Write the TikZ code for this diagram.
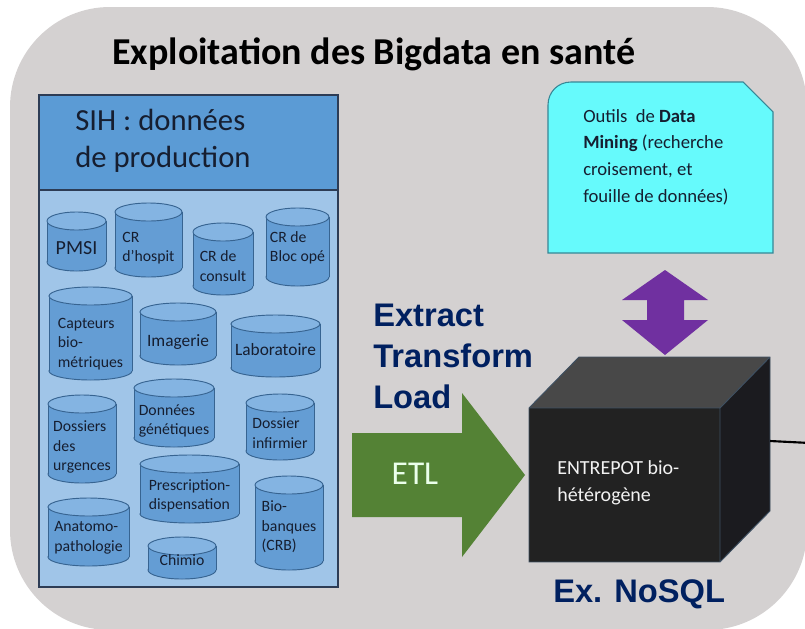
\documentclass[tikz,border=0pt]{standalone}
\usepackage{fontspec}
\setmainfont{Carlito}
\newfontfamily\arialfont{Liberation Sans}
\definecolor{bggray}{RGB}{212,209,209}
\definecolor{sihlight}{RGB}{160,197,232}
\definecolor{sihhead}{RGB}{91,155,213}
\definecolor{sihborder}{RGB}{45,60,85}
\definecolor{cylbody}{RGB}{100,157,212}
\definecolor{cyltopc}{RGB}{132,180,226}
\definecolor{cylline}{RGB}{55,100,145}
\definecolor{darktxt}{RGB}{22,30,48}
\definecolor{dmcyan}{RGB}{102,250,252}
\definecolor{dmborder}{RGB}{55,135,150}
\definecolor{arrowpurple}{RGB}{112,48,160}
\definecolor{etlgreen}{RGB}{84,130,53}
\definecolor{navy}{RGB}{0,32,96}
\definecolor{cubefront}{RGB}{34,34,34}
\definecolor{cubetop}{RGB}{72,72,72}
\definecolor{cuberight}{RGB}{27,27,31}
\definecolor{cubeedge}{RGB}{62,80,98}
\newcommand\dbcyl[7]{%
  \pgfmathsetmacro\cylcx{(#2+#3)/2}%
  \pgfmathsetmacro\cylrx{(#3-#2)/2*0.75}%
  \pgfmathsetmacro\cyltopy{#4+9}%
  \pgfmathsetmacro\cylboty{#5-9}%
  \filldraw[cylshape] (\cylcx,\cylboty) ellipse [x radius=\cylrx pt, y radius=6.75pt];
  \fill[cylbody] (#2,\cyltopy) rectangle (#3,\cylboty);
  \draw[cylshape] (#2,\cyltopy) -- (#2,\cylboty) (#3,\cyltopy) -- (#3,\cylboty);
  \filldraw[cylshape,fill=cyltopc] (\cylcx,\cyltopy) ellipse [x radius=\cylrx pt, y radius=6.75pt];
  \node[cyltext] (#1) at (\cylcx,#6) {#7};
}
\newcommand\cylbig{\fontsize{15pt}{18pt}\selectfont}
\newcommand\cylmid{\fontsize{13pt}{16pt}\selectfont}
\begin{document}
\begin{tikzpicture}[x=0.75pt,y=-0.75pt,
  cylshape/.style={fill=cylbody,draw=cylline,line width=0.7pt},
  cyltext/.style={inner sep=0pt,align=left,text=darktxt,font=\fontsize{11.8pt}{14.6pt}\selectfont},
  bigblue/.style={inner sep=0pt,anchor=base west,align=left,text=navy,font=\arialfont\bfseries\fontsize{24.5pt}{30.7pt}\selectfont}]
\useasboundingbox (0,0) rectangle (805,628);
% background
\fill[bggray, rounded corners=75pt] (10,7) rectangle (807,630);
% title
\node[inner sep=0pt,anchor=base west,font=\bfseries\fontsize{28.5pt}{34pt}\selectfont] (title) at (112,64) {Exploitation des Bigdata en santé};
% SIH box
\draw[fill=sihlight,draw=sihborder,line width=0.8pt] (39,95) rectangle (338,587);
\draw[fill=sihhead,draw=sihborder,line width=1pt] (39,95) rectangle (338,190);
\node[inner sep=0pt,anchor=base west,align=left,text=darktxt,font=\fontsize{23pt}{27.7pt}\selectfont] (sih) at (75,167) {SIH : données\\de production};
% cylinders
\dbcyl{pmsi}{47}{106}{212}{271}{248}{\cylbig PMSI}
\dbcyl{crhosp}{115}{182}{203}{277}{248}{CR\\d’hospit}
\dbcyl{crconsult}{193}{253}{223}{295}{266}{CR de\\consult}
\dbcyl{crbloc}{266}{329}{208}{286}{248}{CR de\\Bloc opé}
\dbcyl{capteurs}{49}{132}{287}{380}{344}{Capteurs\\bio-\\métriques}
\dbcyl{imagerie}{140}{216}{303}{365}{342}{\cylmid Imagerie}
\dbcyl{labo}{231}{320}{315}{377}{350}{\cylmid Laboratoire}
\dbcyl{genet}{134}{214}{379}{447}{421}{Données\\génétiques}
\dbcyl{infirm}{246}{314}{394}{460}{433}{Dossier\\infirmier}
\dbcyl{urgences}{48}{116}{395}{483}{447}{Dossiers\\des\\urgences}
\dbcyl{prescr}{140}{239}{455}{523}{496}{Prescription-\\dispensation}
\dbcyl{biobq}{255}{323}{476}{570}{527}{Bio-\\banques\\(CRB)}
\dbcyl{anapath}{48}{129}{498}{566}{538}{Anatomo-\\pathologie}
\dbcyl{chimio}{148}{216}{537}{579}{560}{Chimio}
% Data mining box
\draw[fill=dmcyan,draw=dmborder,line width=0.8pt] (548,253) -- (548,105) .. controls (548,92) and (558,82) .. (571,82) -- (743,82) -- (773,112) -- (773,253) -- cycle;
\node[inner sep=0pt,anchor=base west,align=left,text=darktxt,font=\fontsize{14pt}{20pt}\selectfont] (dm) at (583,202) {Outils\ \ de \textbf{Data}\\\textbf{Mining} (recherche\\croisement, et\\fouille de données)};
% purple double arrow
\fill[arrowpurple] (665,270) -- (708,300) -- (684,300) -- (684,320) -- (708,320) -- (665,355) -- (622,320) -- (647,320) -- (647,300) -- (622,300) -- cycle;
% ETL arrow
\fill[etlgreen] (352,433) -- (462,433) -- (462,393) -- (525,475) -- (462,557) -- (462,517) -- (352,517) -- cycle;
\node[inner sep=0pt,text=white!92!green,font=\fontsize{25pt}{30pt}\selectfont] (etl) at (415,474) {ETL};
% Extract Transform Load
\node[bigblue] (etltext) at (373,408) {Extract\\Transform\\Load};
% cube
\fill[cubetop] (529,408) -- (579,357) -- (770,357) -- (720,408) -- cycle;
\fill[cuberight] (720,408) -- (770,357) -- (770,511) -- (720,562) -- cycle;
\fill[cubefront] (529,408) rectangle (720,562);
\draw[cubeedge,line width=0.7pt] (529,408) -- (579,357) -- (770,357) -- (770,511) -- (720,562) -- (529,562) -- cycle (529,408) -- (720,408) -- (770,357) (720,408) -- (720,562);
\coordinate (cuberightpt) at (770,441);
\coordinate (offpage) at (810,443);
\node[inner sep=0pt,anchor=base west,align=left,text=white!90!gray,font=\fontsize{15pt}{20pt}\selectfont] (entrepot) at (557,501) {ENTREPOT bio-\\hétérogène};
\node[bigblue] (nosql) at (553,602) {Ex. NoSQL};
% line to the right
\draw[black,line width=1.6pt] (cuberightpt) -- (offpage);
\end{tikzpicture}
\end{document}
